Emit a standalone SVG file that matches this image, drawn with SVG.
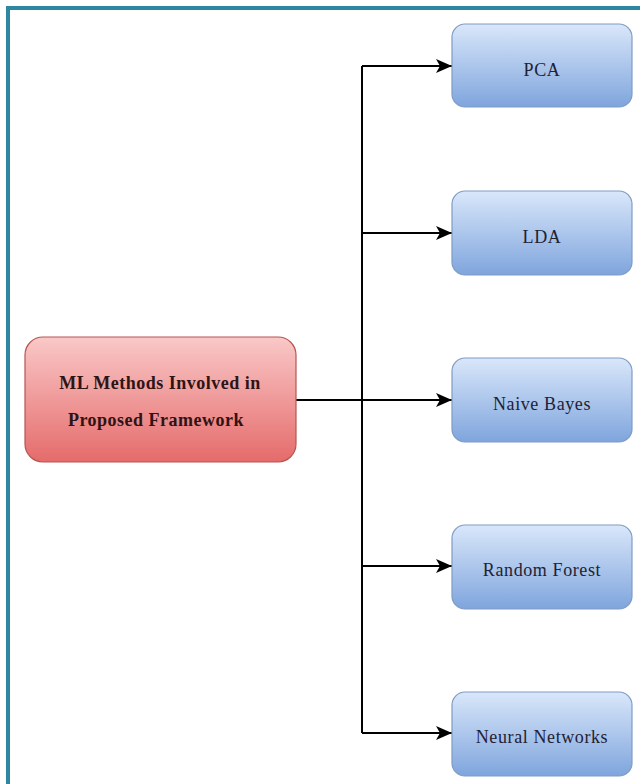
<svg xmlns="http://www.w3.org/2000/svg" width="640" height="784" viewBox="0 0 640 784">
<style>
.lbl{font-family:"Liberation Serif","Times New Roman",serif;font-size:18px;letter-spacing:0.6px;fill:#1f2233;text-anchor:middle;dominant-baseline:central}
.red{font-size:18px;font-weight:bold;fill:#2e1414;letter-spacing:0.5px}
.blue rect{fill:url(#gb);stroke:#7f9cc4;stroke-width:1.2}
.edge{fill:none;stroke:#000;stroke-width:2}
</style>
<defs>
<linearGradient id="gb" x1="0" y1="0" x2="0" y2="1"><stop offset="0" stop-color="#d9e7fa"/><stop offset="1" stop-color="#7fa5dd"/></linearGradient>
<linearGradient id="gr" x1="0" y1="0" x2="0" y2="1"><stop offset="0" stop-color="#fac8c8"/><stop offset="1" stop-color="#e56b6b"/></linearGradient>
<marker id="ah" markerWidth="16" markerHeight="14" refX="16" refY="7" orient="auto" markerUnits="userSpaceOnUse"><path d="M0,0 L16,7 L0,14 L4,7 Z" fill="#000"/></marker>
</defs>
<rect width="640" height="784" fill="#fff"/>
<rect x="8" y="8" width="700" height="820" fill="none" stroke="#2e87a0" stroke-width="4"/>
<g id="connectors">
<path class="edge" d="M296,400 H451"/>
<path class="edge" d="M362,66 V733"/>
<path class="edge" d="M362,66 H452" marker-end="url(#ah)"/>
<path class="edge" d="M362,233 H452" marker-end="url(#ah)"/>
<path class="edge" d="M362,400 H452" marker-end="url(#ah)"/>
<path class="edge" d="M362,566 H452" marker-end="url(#ah)"/>
<path class="edge" d="M362,733 H452" marker-end="url(#ah)"/>
</g>
<g id="root"><rect x="25" y="337" width="271" height="125" rx="18" fill="url(#gr)" stroke="#b85450" stroke-width="1.2"/>
<text class="lbl red" x="160" y="383">ML Methods Involved in</text>
<text class="lbl red" x="156" y="420">Proposed Framework</text></g>
<g id="pca" class="blue"><rect x="452" y="24" width="180" height="83" rx="13"/><text class="lbl" x="542" y="70">PCA</text></g>
<g id="lda" class="blue"><rect x="452" y="191" width="180" height="84" rx="13"/><text class="lbl" x="542" y="237">LDA</text></g>
<g id="nb" class="blue"><rect x="452" y="358" width="180" height="84" rx="13"/><text class="lbl" x="542" y="404">Naive Bayes</text></g>
<g id="rf" class="blue"><rect x="452" y="525" width="180" height="84" rx="13"/><text class="lbl" x="542" y="570">Random Forest</text></g>
<g id="nn" class="blue"><rect x="452" y="692" width="180" height="84" rx="13"/><text class="lbl" x="542" y="737">Neural Networks</text></g>
</svg>
